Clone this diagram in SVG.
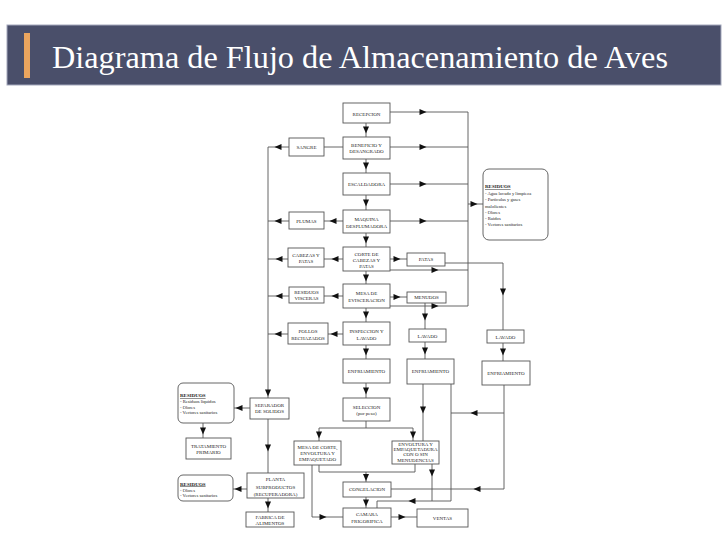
<svg xmlns="http://www.w3.org/2000/svg" xmlns:xlink="http://www.w3.org/1999/xlink" width="728" height="546" viewBox="0 0 728 546">
<style>
.b{fill:#fff;stroke:#555;stroke-width:0.9}
.r{fill:#fff;stroke:#555;stroke-width:0.9}
.t{font-family:"Liberation Serif","Times New Roman",serif;font-size:5px;fill:#222;text-anchor:middle}
.s{font-family:"Liberation Serif","Times New Roman",serif;font-size:4.6px;fill:#222}
.h{font-weight:bold;text-decoration:underline;font-size:5px}
.c{fill:none;stroke:#555;stroke-width:0.9}
.a{fill:#111}
.ti{font-family:"Liberation Serif","Times New Roman",serif;font-size:31px;fill:#fff}
</style>
<defs>
<path id="ah" class="a" d="M-3.5,-3L3.5,0L-3.5,3Z"/>
</defs>
<rect width="728" height="546" fill="#fff"/>
<g id="header">
<rect x="7" y="25" width="714" height="60" fill="#4A4F6A" stroke="#A3A8BC" stroke-width="1"/>
<rect x="24" y="33" width="6" height="45" fill="#EBA55E"/>
<text class="ti" x="52" y="67.5" textLength="616" lengthAdjust="spacingAndGlyphs">Diagrama de Flujo de Almacenamiento de Aves</text>
</g>
<g id="connectors">
<path class="c" d="M366,123V137M366,159V173M366,195V210M366,233V247M366,271V284M366,308V322M366,345V359M366,383V398M366,497V508"/>
<path class="c" d="M390,112H468M390,147H468M390,184H468M390,221H468M468,112V306M390,270H468M390,306H468M468,204H483"/>
<path class="c" d="M343,147H324M289,147H268M343,221H324M289,221H268M343,259H324M288,259H268M343,296H324M289,296H268M343,334H328M288,334H268M268,147V398"/>
<path class="c" d="M390,259H407M445,263H503V330M390,297H407M425,303V329M425,342V359M503,343V361"/>
<path class="c" d="M423,384V441M451,384V501H377V508M504,385V489H391M504,413H451"/>
<path class="c" d="M366,421V428M319,428H413M319,428V441M413,428V441M319,465V472H415M415,464V472M366,472V482M312,465V517H343M432,464V501M391,517H417"/>
<path class="c" d="M250,408H234M203,423V438M268,419V473M247,489H233M268,498V512"/>
<use xlink:href="#ah" transform="translate(366,130) rotate(90)"/>
<use xlink:href="#ah" transform="translate(366,166) rotate(90)"/>
<use xlink:href="#ah" transform="translate(366,203) rotate(90)"/>
<use xlink:href="#ah" transform="translate(366,240) rotate(90)"/>
<use xlink:href="#ah" transform="translate(366,278) rotate(90)"/>
<use xlink:href="#ah" transform="translate(366,315) rotate(90)"/>
<use xlink:href="#ah" transform="translate(366,352) rotate(90)"/>
<use xlink:href="#ah" transform="translate(366,391) rotate(90)"/>
<use xlink:href="#ah" transform="translate(366,503) rotate(90)"/>
<use xlink:href="#ah" transform="translate(423,112)"/>
<use xlink:href="#ah" transform="translate(423,147)"/>
<use xlink:href="#ah" transform="translate(423,184)"/>
<use xlink:href="#ah" transform="translate(423,221)"/>
<use xlink:href="#ah" transform="translate(435,270)"/>
<use xlink:href="#ah" transform="translate(435,306)"/>
<use xlink:href="#ah" transform="translate(474,204)"/>
<use xlink:href="#ah" transform="translate(278,147) rotate(180)"/>
<use xlink:href="#ah" transform="translate(333,221) rotate(180)"/>
<use xlink:href="#ah" transform="translate(278,221) rotate(180)"/>
<use xlink:href="#ah" transform="translate(335,259) rotate(180)"/>
<use xlink:href="#ah" transform="translate(279,259) rotate(180)"/>
<use xlink:href="#ah" transform="translate(335,296) rotate(180)"/>
<use xlink:href="#ah" transform="translate(279,296) rotate(180)"/>
<use xlink:href="#ah" transform="translate(334,334) rotate(180)"/>
<use xlink:href="#ah" transform="translate(278,334) rotate(180)"/>
<use xlink:href="#ah" transform="translate(268,393) rotate(90)"/>
<use xlink:href="#ah" transform="translate(397,259)"/>
<use xlink:href="#ah" transform="translate(503,292) rotate(90)"/>
<use xlink:href="#ah" transform="translate(397,297)"/>
<use xlink:href="#ah" transform="translate(425,317) rotate(90)"/>
<use xlink:href="#ah" transform="translate(425,351) rotate(90)"/>
<use xlink:href="#ah" transform="translate(503,352) rotate(90)"/>
<use xlink:href="#ah" transform="translate(423,410) rotate(90)"/>
<use xlink:href="#ah" transform="translate(412,501) rotate(180)"/>
<use xlink:href="#ah" transform="translate(477,489) rotate(180)"/>
<use xlink:href="#ah" transform="translate(474,413) rotate(180)"/>
<use xlink:href="#ah" transform="translate(319,435) rotate(90)"/>
<use xlink:href="#ah" transform="translate(413,435) rotate(90)"/>
<use xlink:href="#ah" transform="translate(366,477.5) rotate(90)"/>
<use xlink:href="#ah" transform="translate(323,517)"/>
<use xlink:href="#ah" transform="translate(432,473) rotate(90)"/>
<use xlink:href="#ah" transform="translate(402,517)"/>
<use xlink:href="#ah" transform="translate(239,408) rotate(180)"/>
<use xlink:href="#ah" transform="translate(203,431) rotate(90)"/>
<use xlink:href="#ah" transform="translate(268,448) rotate(90)"/>
<use xlink:href="#ah" transform="translate(238,489) rotate(180)"/>
<use xlink:href="#ah" transform="translate(268,505) rotate(90)"/>
</g>
<g id="recepcion"><rect class="b" x="343" y="103" width="47" height="20"/><text class="t" x="366.5" y="115.5">RECEPCION</text></g>
<g id="beneficio"><rect class="b" x="343" y="137" width="47" height="22"/><text class="t" x="366.5" y="146.5">BENEFICIO Y</text><text class="t" x="366.5" y="153">DESANGRADO</text></g>
<g id="escaldadora"><rect class="b" x="343" y="173" width="47" height="22"/><text class="t" x="366.5" y="185.5">ESCALDADORA</text></g>
<g id="maquina"><rect class="b" x="343" y="210" width="47" height="23"/><text class="t" x="366.5" y="221">MAQUINA</text><text class="t" x="366.5" y="227.5">DESPLUMADORA</text></g>
<g id="corte"><rect class="b" x="343" y="247" width="47" height="24"/><text class="t" x="366.5" y="255.5">CORTE DE</text><text class="t" x="366.5" y="261.5">CABEZAS Y</text><text class="t" x="366.5" y="267.5">PATAS</text></g>
<g id="mesa-evisceracion"><rect class="b" x="343" y="284" width="47" height="24"/><text class="t" x="366.5" y="295">MESA DE</text><text class="t" x="366.5" y="302">EVISCERACION</text></g>
<g id="inspeccion"><rect class="b" x="343" y="322" width="47" height="23"/><text class="t" x="366.5" y="333">INSPECCION Y</text><text class="t" x="366.5" y="339.5">LAVADO</text></g>
<g id="enfriamiento1"><rect class="b" x="343" y="359" width="47" height="24"/><text class="t" x="366.5" y="372.5">ENFRIAMIENTO</text></g>
<g id="seleccion"><rect class="b" x="343" y="398" width="47" height="23"/><text class="t" x="366.5" y="409">SELECCION</text><text class="t" x="366.5" y="415">(por peso)</text></g>
<g id="congelacion"><rect class="b" x="343" y="482" width="48" height="15"/><text class="t" x="367" y="491">CONGELACION</text></g>
<g id="camara"><rect class="b" x="343" y="508" width="48" height="19"/><text class="t" x="367" y="515.5">CAMARA</text><text class="t" x="367" y="523">FRIGORIFICA</text></g>
<g id="ventas"><rect class="b" x="417" y="509" width="51" height="18"/><text class="t" x="442.5" y="520">VENTAS</text></g>
<g id="sangre"><rect class="b" x="289" y="138" width="35" height="18"/><text class="t" x="306.5" y="148.5">SANGRE</text></g>
<g id="plumas"><rect class="b" x="289" y="212" width="35" height="17"/><text class="t" x="306.5" y="222.5">PLUMAS</text></g>
<g id="cabezas"><rect class="b" x="288" y="248" width="36" height="19"/><text class="t" x="306" y="256.5">CABEZAS Y</text><text class="t" x="306" y="263">PATAS</text></g>
<g id="residuos-visceras"><rect class="b" x="289" y="287" width="35" height="16"/><text class="t" x="306.5" y="294">RESIDUOS</text><text class="t" x="306.5" y="300">VISCERAS</text></g>
<g id="pollos"><rect class="b" x="288" y="323" width="40" height="21"/><text class="t" x="308" y="333">POLLOS</text><text class="t" x="308" y="340">RECHAZADOS</text></g>
<g id="patas"><rect class="b" x="407" y="253" width="38" height="13"/><text class="t" x="426" y="261">PATAS</text></g>
<g id="menudos"><rect class="b" x="407" y="292" width="39" height="11"/><text class="t" x="426.5" y="299">MENUDOS</text></g>
<g id="lavado2"><rect class="b" x="409" y="329" width="37" height="13"/><text class="t" x="427.5" y="337.5">LAVADO</text></g>
<g id="lavado3"><rect class="b" x="487" y="330" width="37" height="13"/><text class="t" x="505.5" y="338.5">LAVADO</text></g>
<g id="enfriamiento2"><rect class="b" x="407" y="359" width="47" height="25"/><text class="t" x="430.5" y="372.5">ENFRIAMIENTO</text></g>
<g id="enfriamiento3"><rect class="b" x="482" y="361" width="48" height="24"/><text class="t" x="506" y="374.5">ENFRIAMIENTO</text></g>
<g id="mesa-corte"><rect class="b" x="294" y="441" width="47" height="24"/><text class="t" x="317.5" y="449">MESA DE CORTE,</text><text class="t" x="317.5" y="455">ENVOLTURA Y</text><text class="t" x="317.5" y="461">EMPAQUETADO</text></g>
<g id="envoltura"><rect class="b" x="392" y="441" width="47" height="23"/><text class="t" x="415.5" y="446">ENVOLTURA Y</text><text class="t" x="415.5" y="451.2">EMPAQUETADURA</text><text class="t" x="415.5" y="456.4">CON O SIN</text><text class="t" x="415.5" y="461.6">MENUDENCIAS</text></g>
<g id="residuos-principal"><rect class="r" x="483" y="169" width="65" height="71" rx="6"/>
<text class="s" x="485" y="188"><tspan class="h">RESIDUOS</tspan></text>
<text class="s" x="485" y="195">- Agua lavado y limpieza</text>
<text class="s" x="485" y="201">- Particulas y gases</text>
<text class="s" x="485" y="207.5">malolientes</text>
<text class="s" x="485" y="213.5">- Olores</text>
<text class="s" x="485" y="219.5">- Ruidos</text>
<text class="s" x="485" y="226">- Vectores sanitarios</text></g>
<g id="separador"><rect class="b" x="250" y="398" width="39" height="21"/><text class="t" x="269.5" y="406.5">SEPARADOR</text><text class="t" x="269.5" y="413">DE SOLIDOS</text></g>
<g id="residuos-separador"><rect class="r" x="178" y="383" width="56" height="40" rx="5"/>
<text class="s" x="180" y="397"><tspan class="h">RESIDUOS</tspan></text>
<text class="s" x="180" y="403">- Residuos liquidos</text>
<text class="s" x="180" y="408.5">- Olores</text>
<text class="s" x="180" y="414">- Vectores sanitarios</text></g>
<g id="tratamiento"><rect class="b" x="186" y="438" width="45" height="21"/><text class="t" x="208.5" y="448">TRATAMIENTO</text><text class="t" x="208.5" y="454">PRIMARIO</text></g>
<g id="planta"><rect class="b" x="247" y="473" width="57" height="25"/><text class="t" x="275.5" y="481">PLANTA</text><text class="t" x="275.5" y="488.5">SUBPRODUCTOS</text><text class="t" x="275.5" y="495.5">(RECUPERADORA)</text></g>
<g id="residuos-planta"><rect class="r" x="178" y="475" width="55" height="26" rx="5"/>
<text class="s" x="180" y="485.5"><tspan class="h">RESIDUOS</tspan></text>
<text class="s" x="180" y="491.5">- Olores</text>
<text class="s" x="180" y="497">- Vectores sanitarios</text></g>
<g id="fabrica"><rect class="b" x="246" y="512" width="48" height="15"/><text class="t" x="270" y="518.5">FABRICA DE</text><text class="t" x="270" y="525">ALIMENTOS</text></g>
</svg>
